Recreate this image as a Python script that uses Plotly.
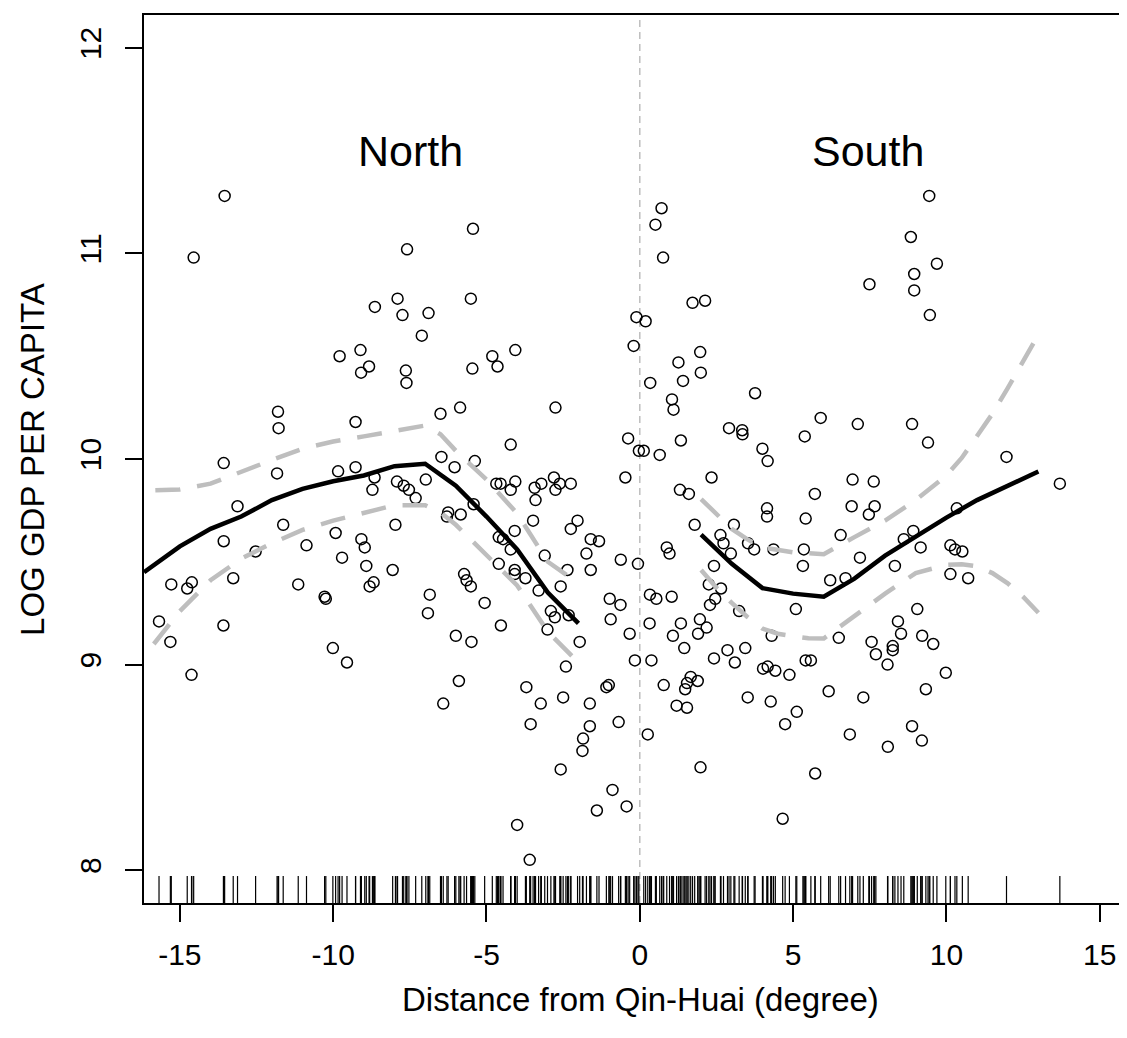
import plotly.graph_objects as go

# ---- scatter data: distance from Qin-Huai (degree) and log GDP per capita ----
dist = [
    -13.54, -14.55, -11.80, -11.78, -13.57, -11.83, -13.12, -11.63, -13.57, -12.53,
    -10.87, -15.28, -14.61, -14.76, -13.26, -11.14, -15.68, -13.58, -15.31, -14.62,
    -7.59, -7.90, -8.64, -7.74, -6.89, -7.11, -9.11, -9.79, -8.83, -9.09,
    -7.63, -7.61, -6.50, -5.86, -9.27, -6.47, -6.04, -9.84, -9.27, -8.65,
    -8.72, -7.92, -7.70, -7.53, -7.31, -6.98, -6.25, -6.29, -5.84, -7.97,
    -9.92, -9.08, -8.97, -9.71, -8.92, -8.06, -8.68, -8.81, -10.28, -10.24,
    -6.85, -6.91, -6.00, -10.01, -9.55, -5.90, -6.41,
    -5.44, -5.51, -4.81, -4.64, -4.06, -5.46, -2.75, -4.21, -5.38, -4.68,
    -4.54, -4.06, -4.21, -3.43, -3.21, -3.40, -2.80, -2.61, -2.75, -2.25,
    -5.42, -3.48, -2.03, -2.25, -4.08, -4.60, -4.46, -1.60, -1.33, -4.21,
    -1.74, -3.10, -4.60, -0.62, -0.06, -1.60, -4.08, -4.08, -3.73, -5.73,
    -5.65, -5.51, -2.36, -2.58, -3.30, -5.06, -0.98, -0.63, -0.95, -2.90,
    -2.77, -2.32, -4.53, -3.01, -0.33, -5.49, -1.96, -0.16, -2.41, -3.70,
    -3.23, -2.50, -3.56, -1.63, -1.63, -1.09, -1.01, -0.69, -1.85, -1.87,
    -2.58, -0.89, -1.40, -0.43, -4.00, -3.59, -0.11, -0.20, -0.38, -0.03,
    -0.47,
    0.71, 0.51, 0.76, 1.72, 2.13, 0.19, 1.97, 1.26, 1.99, 1.41,
    0.34, 1.05, 1.10, 3.76, 2.91, 3.34, 3.35, 5.38, 4.00, 4.17,
    1.34, 0.13, 0.65, 2.34, 1.31, 1.60, 4.15, 4.15, 5.41, 1.79,
    3.07, 2.63, 2.73, 3.53, 3.73, 4.36, 5.35, 5.32, 0.88, 0.97,
    2.97, 2.42, 2.25, 2.65, 0.33, 0.54, 1.04, 2.46, 2.29, 3.24,
    5.09, 1.96, 2.18, 1.90, 0.32, 1.34, 1.08, 1.45, 0.38, 4.30,
    2.42, 2.86, 3.10, 3.44, 4.02, 4.17, 4.42, 4.88, 5.41, 0.78,
    1.66, 1.54, 1.48, 1.89, 1.20, 1.54, 3.52, 4.27, 5.12, 4.74,
    0.26, 1.98, 4.66,
    9.44, 8.84, 9.69, 8.95, 8.95, 7.49, 9.46, 5.90, 7.11, 8.88,
    9.40, 6.94, 7.63, 5.71, 6.91, 7.66, 7.47, 6.55, 10.34, 8.61,
    8.92, 9.16, 7.18, 8.32, 10.13, 10.28, 10.52, 10.13, 10.71, 6.21,
    6.71, 9.05, 6.49, 8.42, 8.52, 9.21, 9.57, 7.56, 7.70, 8.25,
    8.25, 8.08, 5.58, 9.98, 6.16, 7.29, 9.33, 6.85, 8.88, 9.20,
    8.09, 5.72,
    11.96, 13.70,
]
loggdp = [
    11.28, 10.98, 10.23, 10.15, 9.98, 9.93, 9.77, 9.68, 9.60, 9.55,
    9.58, 9.39, 9.40, 9.37, 9.42, 9.39, 9.21, 9.19, 9.11, 8.95,
    11.02, 10.78, 10.74, 10.70, 10.71, 10.60, 10.53, 10.50, 10.45, 10.42,
    10.43, 10.37, 10.22, 10.25, 10.18, 10.01, 9.96, 9.94, 9.96, 9.91,
    9.85, 9.89, 9.87, 9.85, 9.81, 9.90, 9.74, 9.72, 9.73, 9.68,
    9.64, 9.61, 9.57, 9.52, 9.48, 9.46, 9.40, 9.38, 9.33, 9.32,
    9.34, 9.25, 9.14, 9.08, 9.01, 8.92, 8.81,
    11.12, 10.78, 10.50, 10.45, 10.53, 10.44, 10.25, 10.07, 9.99, 9.88,
    9.88, 9.89, 9.85, 9.86, 9.88, 9.80, 9.91, 9.88, 9.85, 9.88,
    9.78, 9.70, 9.70, 9.66, 9.65, 9.62, 9.61, 9.61, 9.60, 9.56,
    9.54, 9.53, 9.49, 9.51, 9.49, 9.46, 9.46, 9.44, 9.42, 9.44,
    9.41, 9.38, 9.46, 9.38, 9.36, 9.30, 9.32, 9.29, 9.22, 9.26,
    9.23, 9.24, 9.19, 9.17, 9.15, 9.11, 9.11, 9.02, 8.99, 8.89,
    8.81, 8.84, 8.71, 8.81, 8.70, 8.89, 8.90, 8.72, 8.64, 8.58,
    8.49, 8.39, 8.29, 8.31, 8.22, 8.05, 10.69, 10.55, 10.10, 10.04,
    9.91,
    11.22, 11.14, 10.98, 10.76, 10.77, 10.67, 10.52, 10.47, 10.42, 10.38,
    10.37, 10.29, 10.24, 10.32, 10.15, 10.14, 10.12, 10.11, 10.05, 9.99,
    10.09, 10.04, 10.02, 9.91, 9.85, 9.83, 9.76, 9.72, 9.71, 9.68,
    9.68, 9.63, 9.59, 9.59, 9.56, 9.56, 9.56, 9.48, 9.57, 9.54,
    9.54, 9.48, 9.39, 9.37, 9.34, 9.32, 9.33, 9.32, 9.29, 9.26,
    9.27, 9.22, 9.18, 9.15, 9.20, 9.20, 9.14, 9.08, 9.02, 9.14,
    9.03, 9.07, 9.01, 9.08, 8.98, 8.99, 8.97, 8.95, 9.02, 8.90,
    8.94, 8.91, 8.88, 8.92, 8.80, 8.79, 8.84, 8.82, 8.77, 8.71,
    8.66, 8.50, 8.25,
    11.28, 11.08, 10.95, 10.90, 10.82, 10.85, 10.70, 10.20, 10.17, 10.17,
    10.08, 9.90, 9.89, 9.83, 9.77, 9.77, 9.73, 9.63, 9.76, 9.61,
    9.65, 9.57, 9.52, 9.48, 9.58, 9.56, 9.55, 9.44, 9.42, 9.41,
    9.42, 9.27, 9.13, 9.21, 9.15, 9.14, 9.10, 9.11, 9.05, 9.09,
    9.07, 9.00, 9.02, 8.96, 8.87, 8.84, 8.88, 8.66, 8.70, 8.63,
    8.60, 8.47,
    10.01, 9.88,
]

# ---- fitted curves (north and south of the line) ----
north_fit_x = [-16.17, -15.0, -14.0, -13.0, -12.0, -11.0, -10.0, -9.0, -8.0, -7.0, -6.0, -5.0, -4.0, -3.0, -2.0]
north_fit_y = [9.449, 9.575, 9.66, 9.72, 9.80, 9.855, 9.892, 9.92, 9.965, 9.977, 9.87, 9.72, 9.56, 9.35, 9.20]
north_up_x = [-15.8, -15.0, -14.0, -13.0, -12.0, -11.0, -10.0, -9.0, -8.0, -7.0, -6.5, -6.0, -5.0, -4.0, -3.0, -2.0]
north_up_y = [9.848, 9.852, 9.88, 9.94, 9.995, 10.05, 10.085, 10.11, 10.135, 10.163, 10.12, 10.04, 9.90, 9.735, 9.50, 9.395]
north_lo_x = [-15.85, -15.0, -14.0, -13.0, -12.0, -11.0, -10.0, -9.0, -8.0, -7.0, -6.5, -6.0, -5.0, -4.0, -3.0, -2.0]
north_lo_y = [9.10, 9.26, 9.41, 9.515, 9.59, 9.655, 9.70, 9.74, 9.775, 9.775, 9.74, 9.68, 9.53, 9.385, 9.16, 9.01]

south_fit_x = [2.0, 3.0, 4.0, 5.0, 6.0, 7.0, 8.0, 9.0, 10.0, 11.0, 12.0, 13.0]
south_fit_y = [9.632, 9.49, 9.372, 9.345, 9.33, 9.418, 9.53, 9.625, 9.715, 9.80, 9.87, 9.939]
south_up_x = [2.0, 2.5, 3.0, 3.5, 4.0, 5.0, 6.0, 7.0, 8.0, 9.0, 10.0, 10.5, 11.0, 11.5, 12.0, 12.5, 13.0]
south_up_y = [9.805, 9.731, 9.66, 9.61, 9.57, 9.546, 9.537, 9.62, 9.70, 9.80, 9.92, 10.005, 10.11, 10.22, 10.345, 10.47, 10.605]
south_lo_x = [2.0, 2.5, 3.0, 3.5, 4.0, 4.5, 5.0, 5.5, 6.0, 7.0, 8.0, 9.0, 10.0, 10.5, 11.0, 11.5, 12.0, 12.5, 13.0]
south_lo_y = [9.46, 9.374, 9.30, 9.233, 9.175, 9.15, 9.138, 9.128, 9.127, 9.235, 9.345, 9.445, 9.485, 9.488, 9.478, 9.445, 9.395, 9.33, 9.252]

x_ticks = [-15, -10, -5, 0, 5, 10, 15]
y_ticks = [8, 9, 10, 11, 12]
region_labels = ["North", "South"]
region_label_x = [-7.47, 7.44]
region_label_y = 11.5

X_RANGE = [-16.17, 15.89]
Y_RANGE = [7.84, 12.16]
FONT = "Liberation Sans, Arial, Helvetica, sans-serif"

fig = go.Figure()

# rug along bottom
rug_len = 0.131
rx, ry = [], []
for v in dist:
    rx += [v, v, None]
    ry += [Y_RANGE[0], Y_RANGE[0] + rug_len, None]
fig.add_trace(go.Scatter(x=rx, y=ry, mode="lines", line=dict(color="black", width=1.2),
                         hoverinfo="skip", showlegend=False))

# points
fig.add_trace(go.Scatter(x=dist, y=loggdp, mode="markers",
                         marker=dict(symbol="circle-open", size=11, color="black",
                                     line=dict(width=1.5, color="black")),
                         showlegend=False))

dash_style = "25px,17px"
for cx, cy in [(north_up_x, north_up_y), (north_lo_x, north_lo_y),
               (south_up_x, south_up_y), (south_lo_x, south_lo_y)]:
    fig.add_trace(go.Scatter(x=cx, y=cy, mode="lines",
                             line=dict(color="#BEBEBE", width=4.5, dash=dash_style),
                             showlegend=False, hoverinfo="skip"))
for cx, cy in [(north_fit_x, north_fit_y), (south_fit_x, south_fit_y)]:
    fig.add_trace(go.Scatter(x=cx, y=cy, mode="lines",
                             line=dict(color="black", width=4.5),
                             showlegend=False, hoverinfo="skip"))

# vertical dashed line at 0
fig.add_shape(type="line", xref="x", yref="paper", x0=0, x1=0, y0=0, y1=1,
              line=dict(color="#BEBEBE", width=1.5, dash="7px,5px"), layer="below")

for lab, lx in zip(region_labels, region_label_x):
    fig.add_annotation(x=lx, y=region_label_y, xref="x", yref="y", text=lab,
                       showarrow=False, font=dict(family=FONT, size=43, color="black"))

fig.add_annotation(x=0.5046, y=-0.109, xref="paper", yref="paper",
                   text="Distance from Qin-Huai (degree)", showarrow=False,
                   xanchor="center", yanchor="middle",
                   font=dict(family=FONT, size=33, color="black"))
fig.add_annotation(x=-0.114, y=0.5, xref="paper", yref="paper",
                   text="LOG GDP PER CAPITA", showarrow=False, textangle=-90,
                   xanchor="center", yanchor="middle",
                   font=dict(family=FONT, size=33, color="black"))

# page body has an 8px margin: shrink the figure so the plot area lands at the target pixels
fig.update_layout(
    width=1119, height=1022,
    margin=dict(l=136, r=0, t=7, b=127, autoexpand=False),
    plot_bgcolor="white", paper_bgcolor="white",
    font=dict(family=FONT, size=30, color="black"),
    xaxis=dict(range=X_RANGE, tickvals=x_ticks, ticktext=[str(t) for t in x_ticks],
               showgrid=False, zeroline=False, showline=True, mirror=True,
               linecolor="black", linewidth=2, ticks="outside", ticklen=17,
               tickwidth=1.5, tickcolor="black", ticklabelstandoff=7, automargin=False,
               tickfont=dict(family=FONT, size=30, color="black")),
    yaxis=dict(range=Y_RANGE, tickvals=y_ticks, ticktext=[str(t) for t in y_ticks],
               showgrid=False, zeroline=False, showline=True, mirror=False,
               linecolor="black", linewidth=2, ticks="outside", ticklen=17,
               tickwidth=1.5, tickcolor="black", tickangle=-90, ticklabelstandoff=12,
               automargin=False,
               tickfont=dict(family=FONT, size=30, color="black")),
)

fig.write_html("out.html")
